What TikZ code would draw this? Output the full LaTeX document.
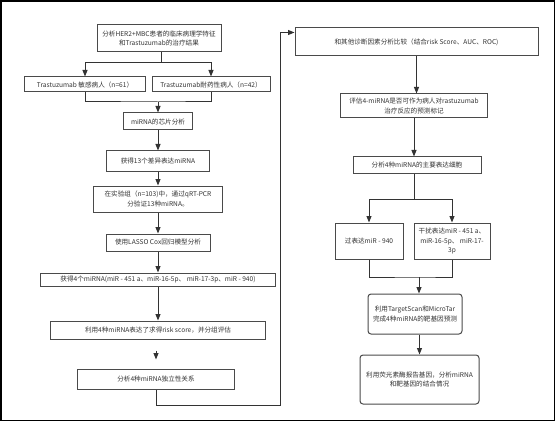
\documentclass[tikz,border=0pt]{standalone}
\usepackage{fontspec}
\setmainfont{Noto Sans CJK SC}
\usetikzlibrary{arrows.meta}
\definecolor{ln}{HTML}{333333}
\definecolor{bd}{HTML}{4A4A4A}
\definecolor{tx}{HTML}{333333}
\tikzset{
  box/.style={draw=bd, line width=1pt, fill=white, inner sep=1pt, align=center,
    text=tx, font=\fontsize{6.6}{9.5}\selectfont},
  rbox/.style={box, rounded corners=3pt},
  conn/.style={draw=ln, line width=1pt},
  arr/.style={conn, -{Triangle[width=5pt,length=6.5pt]}}
}
\begin{document}
\begin{tikzpicture}[x=1pt,y=-1pt]
\useasboundingbox (0,0) rectangle (556,422);
\draw[line width=1.6pt, black] (1,1) rectangle (554.5,420.5);
% left column
\node[box, minimum width=124, minimum height=27] (b1) at (159,38.5) {分析HER2+MBC患者的临床病理学特征\\和Trastuzumab的治疗结果};
\node[box, minimum width=121, minimum height=15] (b2) at (85,84.5) {Trastuzumab 敏感病人（n=61）};
\node[box, minimum width=118, minimum height=15] (b3) at (211,84.5) {Trastuzumab耐药性病人（n=42）};
\node[box, minimum width=69, minimum height=17] (b4) at (158,121.5) {miRNA的芯片分析};
\node[box, minimum width=103, minimum height=20] (b5) at (158,161) {获得13个差异表达miRNA};
\node[box, minimum width=129, minimum height=26] (b6) at (158,199) {在实验组（n=103)中，通过qRT-PCR\\分验证13种miRNA。};
\node[box, minimum width=104, minimum height=17] (b7) at (158,242.5) {使用LASSO Cox回归模型分析};
\node[box, minimum width=235, minimum height=13] (b8) at (158,279.5) {获得4个miRNA(miR - 451 a、miR-16-5p、 miR-17-3p、miR - 940)};
\node[box, minimum width=215, minimum height=18] (b9) at (158,330) {利用4种miRNA表达了求得risk score，并分组评估};
\node[box, minimum width=157, minimum height=20] (b10) at (156,379) {分析4种miRNA独立性关系};
% right column
\node[box, minimum width=243, minimum height=28] (r1) at (416.5,42) {和其他诊断因素分析比较（结合risk Score、AUC、ROC)};
\node[box, minimum width=147, minimum height=24] (r2) at (414,106) {评估4-miRNA是否可作为病人对rastuzumab\\治疗反应的预测标记};
\node[box, minimum width=128, minimum height=16] (r3) at (417,165) {分析4种miRNA的主要表达细胞};
\node[box, minimum width=68, minimum height=36] (r4) at (369,241) {过表达miR - 940};
\node[box, minimum width=76, minimum height=36] (r5) at (452,241) {干扰表达miR - 451 a、\\miR-16-5p、 miR-17-\\3p};
\node[rbox, minimum width=94, minimum height=40] (r6) at (415,314) {利用TargetScan和MicroTar\\完成4种miRNA的靶基因预测};
\node[rbox, minimum width=119, minimum height=49] (r7) at (419.5,379.5) {利用荧光素酶报告基因，分析miRNA\\和靶基因的结合情况};
% connectors left
\coordinate (j1) at (161,63);
\draw[conn] (j1 |- b1.south) -- (j1);
\draw[arr] (j1) -| (b2.north);
\draw[arr] (j1) -| (b3.north);
\coordinate (j2) at (158,102);
\draw[conn] (b2.south) |- (j2) -| (b3.south);
\draw[arr] (j2) -- (j2 |- b4.north);
\draw[arr] (b4.south) -- (b5.north);
\draw[arr] (b5.south) -- (b6.north);
\draw[arr] (b6.south) -- (b7.north);
\draw[arr] (b7.south) -- (b8.north);
\draw[arr] (b8.south) -- (b9.north);
\draw[arr, shorten <=11pt, shorten >=9pt] (b9.south -| b10.north) -- (b10.north);
\coordinate (c1) at (280,405);
\draw[arr] (b10.south) |- (c1) |- ([yshift=-5pt]r1.north west);
% connectors right
\draw[arr] (r1.south) -- (r1.south |- r2.north);
\draw[arr] (r2.south) -- (r2.south |- r3.north);
\coordinate (j3) at (414,199);
\draw[conn] (j3 |- r3.south) -- (j3);
\draw[arr] (j3) -| (r4.north);
\draw[arr] (j3) -| (r5.north);
\coordinate (j4) at (419,277);
\draw[conn] (r4.south) |- (j4) -| (r5.south);
\draw[arr] (j4) -- (j4 |- r6.north);
\draw[arr] (r6.south -| r7.north) -- (r7.north);
\end{tikzpicture}
\end{document}
